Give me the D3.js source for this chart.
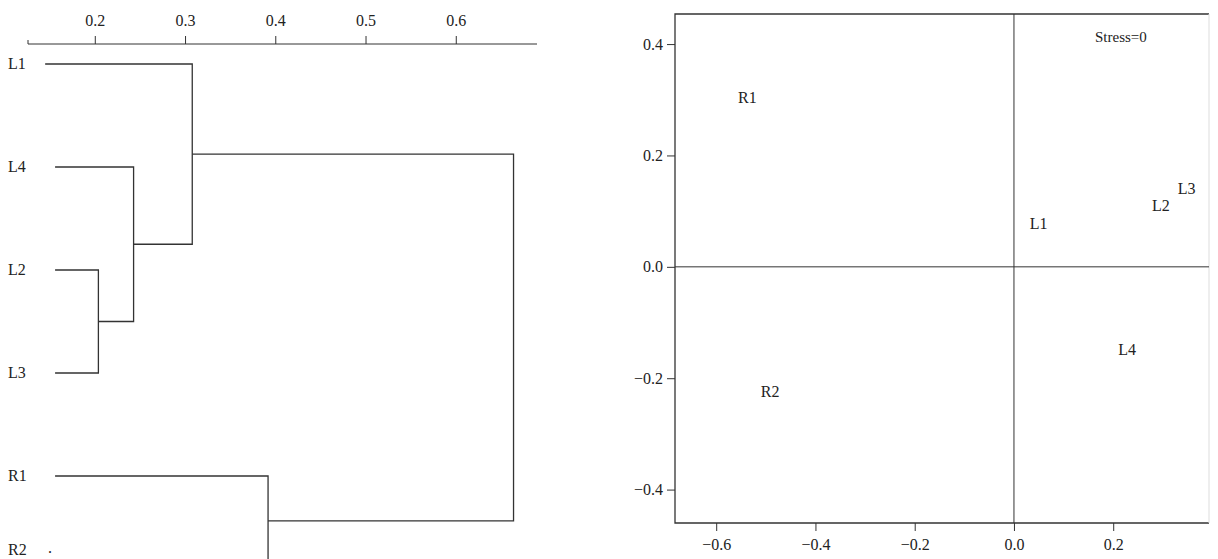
<!DOCTYPE html>
<html><head><meta charset="utf-8">
<script src="https://cdn.jsdelivr.net/npm/d3@7"></script>
<style>body{margin:0;background:#fff}text{font-family:"Liberation Serif",serif;fill:#222}</style>
</head><body>
<svg id="c" width="1218" height="559"></svg>
<script>
// dendrogram leaves (top to bottom) and merge heights
const leaves = ["L1", "L4", "L2", "L3", "R1", "R2"];
const leafStart = [0.145, 0.156, 0.156, 0.156, 0.156, 0.156];
const leafRow = [0, 1, 2, 3, 4, 4.87];
// merges: [childA, childB, height]
const merges = [
  ["L2", "L3", 0.204],
  ["L4", "m0", 0.243],
  ["L1", "m1", 0.308],
  ["R1", "R2", 0.392],
  ["m2", "m3", 0.664]
];
const dendTicks = [0.2, 0.3, 0.4, 0.5, 0.6];

// MDS configuration
const mdsLabels = ["R1", "L1", "L2", "L3", "L4", "R2"];
const mdsX = [-0.556, 0.032, 0.278, 0.330, 0.210, -0.510];
const mdsY = [0.295, 0.068, 0.100, 0.130, -0.158, -0.234];
const mdsTicksX = [-0.6, -0.4, -0.2, 0.0, 0.2];
const mdsTicksY = [-0.4, -0.2, 0.0, 0.2, 0.4];

const svg = d3.select("#c");
const stroke = "#333";
const fs = 16;

// ---- left: dendrogram
const x = d3.scaleLinear().domain([0.126, 0.69]).range([28, 537]);
const y = d3.scaleLinear().domain([0, 4]).range([64, 476]);
const ax = svg.append("g").attr("transform", "translate(0,44)")
  .call(d3.axisTop(x).tickValues(dendTicks).tickSize(8).tickSizeOuter(0).tickFormat(d3.format(".1f")));
ax.select(".domain").attr("stroke", stroke).attr("d", "M28,-4V0H537");
ax.selectAll(".tick line").attr("stroke", stroke).attr("y2", -8);
ax.selectAll("text").attr("font-size", fs).attr("y", -18);

const pos = {};
leaves.forEach((l, i) => {
  pos[l] = { x: leafStart[i], y: y(leafRow[i]) };
  svg.append("text").attr("x", 8).attr("y", Math.min(y(leafRow[i]), 550) + 5).attr("font-size", fs).text(l);
});
const g = svg.append("g").attr("fill", "none").attr("stroke", stroke).attr("stroke-width", 1.3);
merges.forEach((m, i) => {
  const a = pos[m[0]], b = pos[m[1]], h = m[2];
  g.append("path").attr("d",
    `M${x(a.x)},${a.y}H${x(h)}V${b.y}H${x(b.x)}`);
  pos["m" + i] = { x: h, y: (a.y + b.y) / 2 };
});
svg.append("text").attr("x", 48).attr("y", 553).attr("font-size", fs).text(".");

// ---- right: MDS
const sx = d3.scaleLinear().domain([-0.683, 0.393]).range([675, 1209]);
const sy = d3.scaleLinear().domain([0.454, -0.46]).range([14, 523]);
const r = svg.append("g");
r.append("path").attr("fill", "none").attr("stroke", stroke).attr("stroke-width", 1.3)
  .attr("d", `M${sx(0.393)},14H675V523H${sx(0.393)}`);
r.append("line").attr("x1", sx(0.393)).attr("x2", sx(0.393)).attr("y1", 14).attr("y2", 523)
  .attr("stroke", "#ddd");
r.append("line").attr("x1", sx(0)).attr("x2", sx(0)).attr("y1", 14).attr("y2", 523).attr("stroke", stroke);
r.append("line").attr("x1", 675).attr("x2", sx(0.393)).attr("y1", sy(0)).attr("y2", sy(0)).attr("stroke", stroke);
const bx = r.append("g").attr("transform", "translate(0,523)")
  .call(d3.axisBottom(sx).tickValues(mdsTicksX).tickSize(8).tickFormat(d3.format(".1f")));
bx.select(".domain").remove();
bx.selectAll("line").attr("stroke", stroke);
bx.selectAll("text").attr("font-size", fs).attr("dy", "1em").text(d => d3.format(".1f")(d).replace("-", "\u2212"));
const by = r.append("g").attr("transform", "translate(675,0)")
  .call(d3.axisLeft(sy).tickValues(mdsTicksY).tickSize(8).tickFormat(d3.format(".1f")));
by.select(".domain").remove();
by.selectAll("line").attr("stroke", stroke);
by.selectAll("text").attr("font-size", fs).attr("x", -12).text(d => d3.format(".1f")(d).replace("-", "\u2212"));
mdsLabels.forEach((l, i) => {
  r.append("text").attr("x", sx(mdsX[i])).attr("y", sy(mdsY[i])).attr("font-size", fs).text(l);
});
r.append("text").attr("x", 1095).attr("y", 42).attr("font-size", 15).text("Stress=0");
</script>
</body></html>
